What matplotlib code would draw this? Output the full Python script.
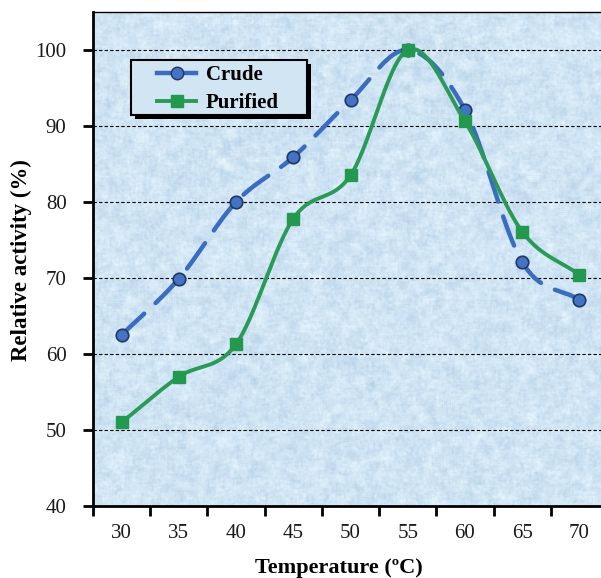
import matplotlib.pyplot as plt
import numpy as np
from matplotlib.patches import Rectangle

temps = [30, 35, 40, 45, 50, 55, 60, 65, 70]
crude = [62.5, 69.9, 80.0, 85.9, 93.4, 100.0, 92.1, 72.1, 67.1]
purified = [51.0, 57.0, 61.3, 77.8, 83.5, 100.0, 90.6, 76.1, 70.4]


def smooth(x, y, n=30):
    # Catmull-Rom through the points, like a spreadsheet "smoothed line"
    x = np.asarray(x, float)
    y = np.asarray(y, float)
    px = np.concatenate([[2 * x[0] - x[1]], x, [2 * x[-1] - x[-2]]])
    py = np.concatenate([[2 * y[0] - y[1]], y, [2 * y[-1] - y[-2]]])
    xs, ys = [], []
    t = np.linspace(0, 1, n)
    for i in range(1, len(px) - 2):
        for p, out in ((px, xs), (py, ys)):
            p0, p1, p2, p3 = p[i - 1], p[i], p[i + 1], p[i + 2]
            seg = 0.5 * ((2 * p1) + (-p0 + p2) * t
                         + (2 * p0 - 5 * p1 + 4 * p2 - p3) * t ** 2
                         + (-p0 + 3 * p1 - 3 * p2 + p3) * t ** 3)
            out.extend(seg if i == len(px) - 3 else seg[:-1])
    return np.array(xs), np.array(ys)


def blur(a, size):
    k = np.ones(size) / size
    a = np.apply_along_axis(lambda r: np.convolve(r, k, "same"), 1, a)
    return np.apply_along_axis(lambda c: np.convolve(c, k, "same"), 0, a)


def paper_texture(h, w, seed=3):
    # mottled light-blue paper fill for the plot area
    rng = np.random.default_rng(seed)
    fine = blur(rng.normal(size=(h, w)), 3)
    coarse = blur(rng.normal(size=(h, w)), 9)
    noise = 0.6 * fine / fine.std() + 0.8 * coarse / coarse.std()
    base = np.array([0.815, 0.895, 0.955])
    img = base[None, None, :] + 0.025 * noise[..., None] * np.array([1.0, 0.75, 0.45])
    return np.clip(img, 0, 1)


plt.rcParams["font.family"] = ["Liberation Serif", "DejaVu Serif"]

fig = plt.figure(figsize=(6.01, 5.78), dpi=100)
ax = fig.add_axes([0.1547, 0.1246, 0.857, 0.8547])

ax.set_xlim(-0.5, 8.5)
ax.set_ylim(40, 105)
ax.imshow(paper_texture(494, 515), extent=(-0.5, 8.5, 40, 105), aspect="auto",
          interpolation="nearest", zorder=0)

idx = np.arange(len(temps))
blue = "#3a6cc0"
green = "#2a9a58"

cx, cy = smooth(idx, crude)
ax.plot(cx, cy, color=blue, lw=3.2, dashes=(7, 3.5), dash_capstyle="round",
        solid_capstyle="round", zorder=3)
ax.plot(idx, crude, ls="none", marker="o", ms=9, mfc="#4472c4", mec="#1f3864",
        mew=1.2, zorder=4)

gx, gy = smooth(idx, purified)
ax.plot(gx, gy, color=green, lw=2.8, zorder=5)
ax.plot(idx, purified, ls="none", marker="s", ms=9, mfc="#23984f", mec="#23984f",
        zorder=6)

# legend box with a hard black drop shadow
ax.add_patch(Rectangle((0.0816, 0.7834), 0.3417, 0.1113, transform=ax.transAxes,
                       facecolor="black", edgecolor="none", zorder=7))
ax.add_patch(Rectangle((0.0738, 0.7915), 0.3417, 0.1113, transform=ax.transAxes,
                       facecolor="#d2e5f3", edgecolor="black", lw=1.5, zorder=8))

h1, = ax.plot([], [], color=blue, lw=3.2, marker="o", ms=9, mfc="#4472c4",
              mec="#1f3864")
h2, = ax.plot([], [], color=green, lw=2.8, marker="s", ms=9, mfc="#23984f",
              mec="#23984f")
leg = ax.legend([h1, h2], ["Crude", "Purified"], loc="upper left",
                bbox_to_anchor=(0.124, 0.893), frameon=False,
                prop={"weight": "bold", "size": 15}, handlelength=1.9,
                handletextpad=0.45, borderpad=0, borderaxespad=0,
                labelspacing=0.4)
leg.set_zorder(9)

ax.set_yticks(np.arange(40, 101, 10))
ax.set_xticks(idx)
ax.set_xticklabels([str(t) for t in temps])
ax.set_xticks(np.arange(-0.5, 9, 1), minor=True)
ax.tick_params(axis="x", which="major", length=0, pad=13, labelsize=15,
               labelcolor="#1a1a1a")
ax.tick_params(axis="x", which="minor", length=7, width=2, direction="out")
ax.tick_params(axis="y", length=7, width=2, direction="out", pad=12,
               labelsize=15, labelcolor="#1a1a1a")

for v in range(50, 101, 10):
    ax.axhline(v, color="black", lw=0.8, ls=(0, (3, 2)), zorder=2)

for s in ("left", "bottom"):
    ax.spines[s].set_linewidth(2)
ax.spines["top"].set_linewidth(1)
ax.spines["right"].set_visible(False)

ax.set_xlabel("Temperature (ºC)", fontsize=16, fontweight="bold")
ax.set_ylabel("Relative activity (%)", fontsize=16.5, fontweight="bold")
ax.xaxis.set_label_coords(0.478, -0.105)
ax.yaxis.set_label_coords(-0.118, 0.498)

fig.savefig("out.png", dpi=100)
